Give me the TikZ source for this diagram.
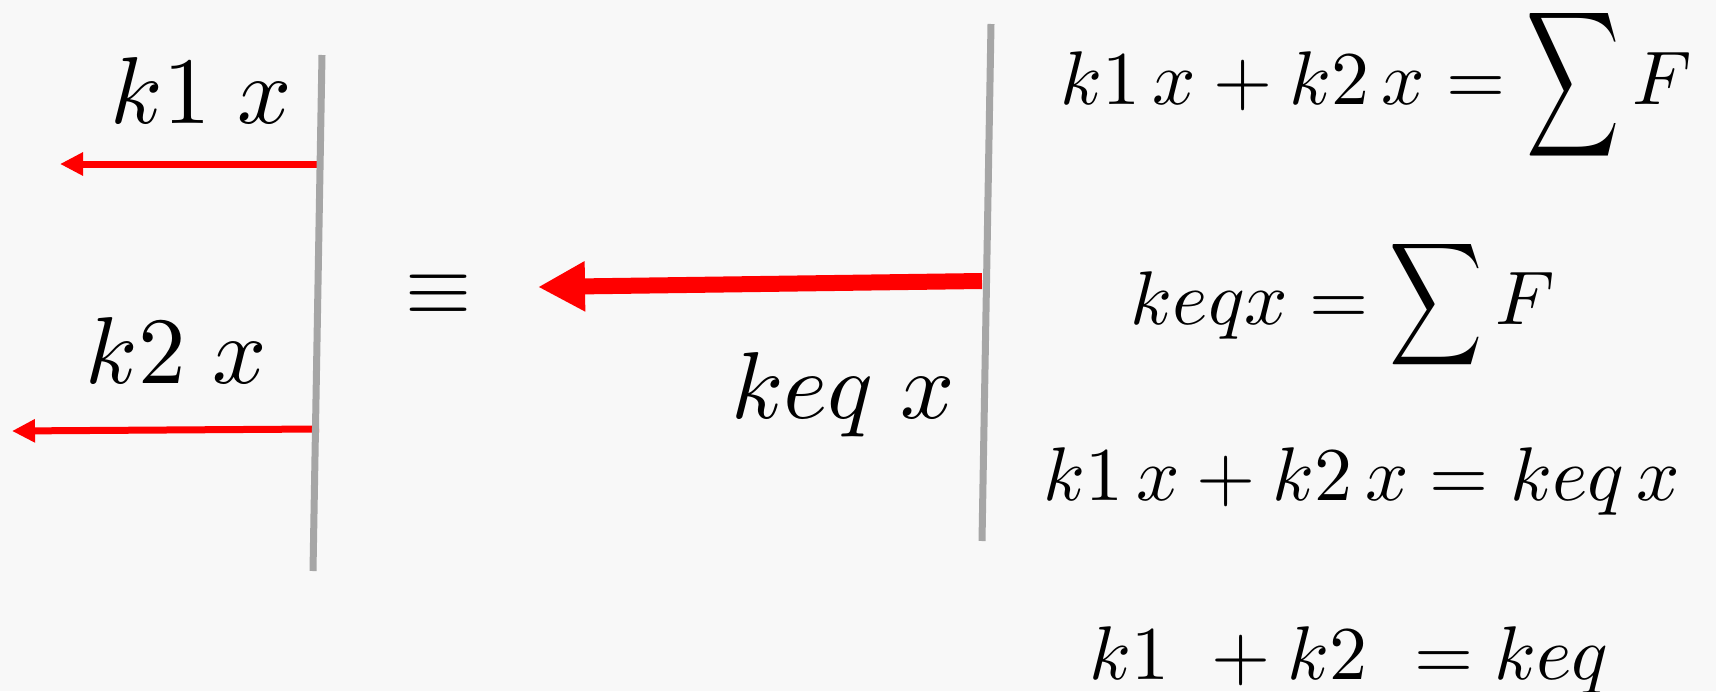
\documentclass[tikz,border=0pt]{standalone}
\usepackage{amsmath, amssymb}
\usepackage{graphicx}
\usepackage{xcolor}
\usetikzlibrary{positioning, arrows.meta, calc}

\definecolor{paper}{RGB}{248,248,248}
\definecolor{wallgray}{RGB}{166,166,166}
\newcommand{\Fsum}[2]{\mathop{\vcenter{\hbox{\scalebox{#1}[#2]{$\displaystyle\sum$}}}}}
\newcommand{\lbltext}[1]{\scalebox{9.5}{$#1$}}
\newcommand{\eqtext}[1]{\scalebox{7.6}{$#1$}}

\tikzset{
  wall/.style={line width=7pt, wallgray},
  force/.style={line width=7pt, red, -{Triangle[length=23pt, width=22pt]}},
  bigforce/.style={line width=16pt, red, -{Triangle[length=47pt, width=47pt]}},
  lbl/.style={anchor=base, inner sep=0pt},
}

\begin{document}
\begin{tikzpicture}[x=1pt, y=-1pt]
  \useasboundingbox (0,0) rectangle (1716,691);
  \fill[paper] (0,0) rectangle (1716,691);

  % two springs on one plate
  \coordinate (w1) at (317,164);
  \coordinate (t1) at (60,164);
  \coordinate (w2) at (319,429);
  \coordinate (t2) at (12,431);
  \draw[force] (w1) -- (t1);
  \draw[force] (w2) -- (t2);
  \draw[wall] (322,55) -- (313,571);
  \node[lbl] (k1x) at (201,123) {\lbltext{k1\;x}};
  \node[lbl] (k2x) at (176,383) {\lbltext{k2\;x}};

  \node[inner sep=0pt] (equiv) at (439,295) {\scalebox{8.5}{$\equiv$}};

  % equivalent spring
  \coordinate (weq) at (982,281);
  \coordinate (teq) at (538,287);
  \draw[bigforce] (weq) -- (teq);
  \draw[wall] (991,24) -- (982,541);
  \node[lbl] (keqx) at (843,418) {\lbltext{keq\;x}};

  \node[lbl] (eq1) at (1376,104) {\eqtext{k1\,x+k2\,x=\Fsum{0.85}{1.34}F}};
  \node[lbl] (eq2) at (1343,324) {\eqtext{keqx=\Fsum{0.85}{1.13}F}};
  \node[lbl] (eq3) at (1362,500) {\eqtext{k1\,x+k2\,x=keq\,x}};
  \node[lbl] (eq4) at (1349,679) {\eqtext{k1\,\,+k2\,\,=keq}};
\end{tikzpicture}
\end{document}
